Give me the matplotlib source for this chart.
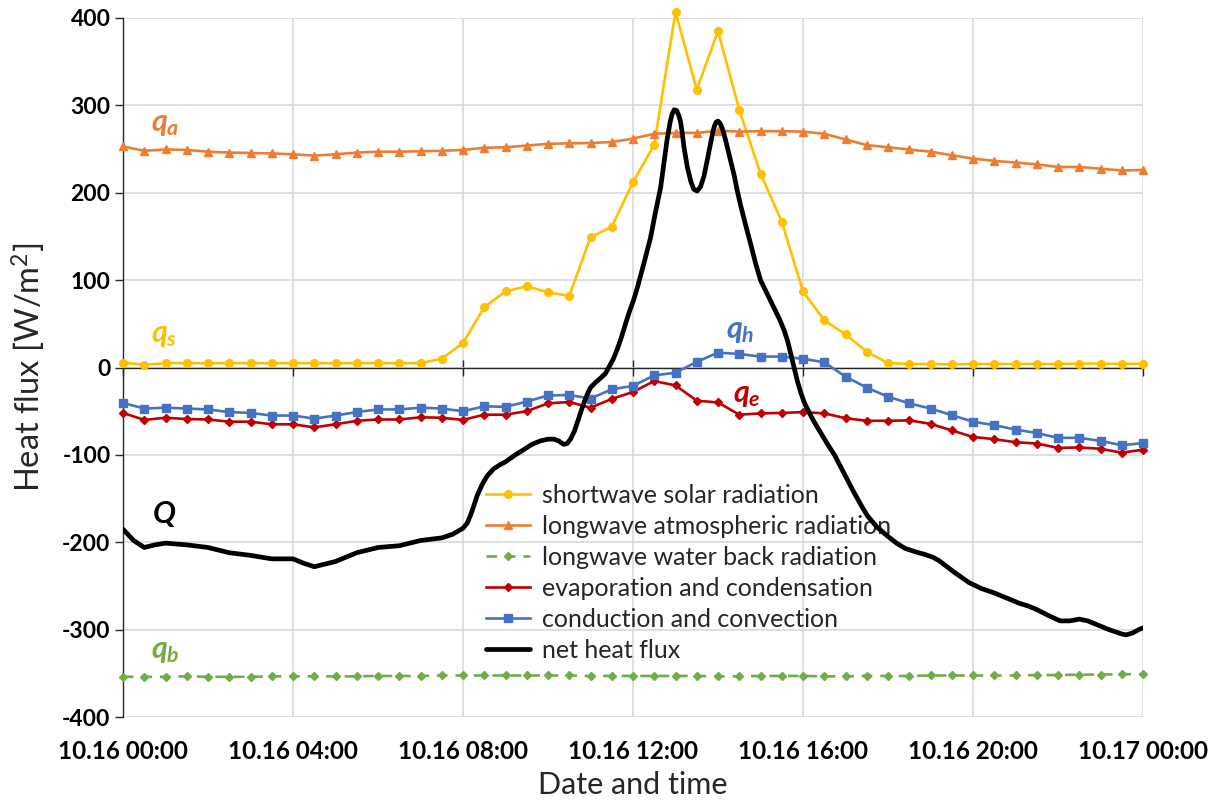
import numpy as np
import matplotlib
matplotlib.use("Agg")
import matplotlib.pyplot as plt

plt.rcParams['font.family'] = ['Lato', 'DejaVu Sans']
plt.rcParams['mathtext.fontset'] = 'custom'
plt.rcParams['mathtext.rm'] = 'Lato'
plt.rcParams['mathtext.it'] = 'Lato:bold:italic'
plt.rcParams['mathtext.bf'] = 'Lato:bold'
plt.rcParams['axes.unicode_minus'] = False

# ---------------- data ----------------
hours = np.arange(0, 24.01, 0.5)
tick_hours = [0, 4, 8, 12, 16, 20, 24]
tick_labels = ["10.16 00:00", "10.16 04:00", "10.16 08:00", "10.16 12:00",
               "10.16 16:00", "10.16 20:00", "10.17 00:00"]

solar = [5.5, 3, 5, 5, 5, 5, 5, 5, 5, 5, 5, 5, 5, 5, 5,
         10, 28, 69, 87, 93, 86, 82, 149, 161, 212, 255, 407, 318, 385, 295,
         222, 167, 87, 54, 38, 18, 5,
         4, 4, 3.5, 4, 4, 4, 4, 4, 4.5, 4.5, 4, 4.5]
atmos = [253, 248, 249.5, 249, 247, 246, 245.5, 245, 244,
         242.5, 244, 246, 247, 247, 247.5, 248, 249,
         251.5, 252, 254, 256, 256.5, 257, 258, 262,
         267.5, 268.5, 268.5, 271, 270, 270.5, 270.5, 270,
         267.5, 261, 254.5, 252, 249.5, 247, 243, 239,
         236.5, 234.5, 232.5, 229.5, 229.5, 227.5, 225.5, 226]
back = [-354, -354, -354, -353.5, -354, -354, -354, -353.5, -353.5,
        -353.5, -353.5, -353.5, -353, -353, -353, -352.5, -352.5,
        -352.5, -352.5, -352.5, -352.5, -352.5, -353, -353, -353,
        -353, -353, -353, -353.5, -353.5, -353, -353, -353,
        -353.5, -353.5, -353, -353, -353, -352.5, -352.5, -352.5,
        -352.5, -352.5, -352, -352, -351.5, -351.5, -351, -351]
evap = [-52, -60, -57.5, -59, -59.5, -62, -62, -65, -65,
        -68.5, -65, -61, -59.5, -59.5, -57, -57.5, -60,
        -54, -54, -50, -41, -39.5, -46, -36, -28,
        -15.5, -20.5, -38, -40, -54, -52.5, -52, -51,
        -52.5, -58, -61, -61, -60.5, -64.5, -72, -79.5,
        -82, -85.5, -87, -92, -91.5, -93, -97.5, -94]
conv = [-40.5, -47, -46, -47, -48, -51, -52, -55, -55,
        -58.5, -55, -51, -48, -48, -46, -47, -50,
        -44.5, -45, -39, -32, -31.5, -35.5, -25, -21,
        -9, -6, 6.5, 17, 15.5, 12.5, 12.5, 10,
        6, -10.5, -23, -33.5, -41, -47, -54.5, -62,
        -66, -71, -75, -80.5, -80.5, -84, -89, -86.5]

net_hours = [0, 0.25, 0.5, 0.75, 1.0, 1.5, 2.0, 2.5, 3.0, 3.5, 4.0, 4.25, 4.5,
             5.0, 5.5, 6.0, 6.5, 7.0, 7.5, 7.75, 8.0, 8.1, 8.17, 8.25, 8.33, 8.45,
             8.57, 8.72, 8.88, 9.0, 9.2, 9.43, 9.62, 9.82, 10.0, 10.14, 10.25, 10.37,
             10.45, 10.53, 10.62, 10.69, 10.77, 10.85, 10.93, 11.0, 11.12, 11.24,
             11.35, 11.43, 11.53, 11.63, 11.73, 11.83, 11.93, 12.02, 12.1, 12.25,
             12.41, 12.53, 12.65, 12.73, 12.8, 12.87, 12.92, 12.97, 13.03, 13.08,
             13.12, 13.16, 13.2, 13.28, 13.36, 13.43, 13.51, 13.59, 13.67, 13.75,
             13.83, 13.88, 13.92, 13.96, 14.0, 14.04, 14.09, 14.13, 14.18, 14.28,
             14.38, 14.45, 14.53, 14.65, 14.77, 14.88, 15.0, 15.16, 15.32, 15.45,
             15.56, 15.64, 15.71, 15.79, 15.87, 15.95, 16.03, 16.15, 16.26, 16.42,
             16.58, 16.74, 16.89, 17.05, 17.2, 17.36, 17.52, 17.75, 17.99, 18.2,
             18.4, 18.65, 18.87, 19.05, 19.2, 19.55, 19.9, 20.2, 20.5, 20.8,
             21.1, 21.3, 21.5, 21.78, 22.05, 22.28, 22.5, 22.7, 22.9, 23.2,
             23.5, 23.6, 23.75, 23.9, 24.0]
net = [-185, -198, -206, -203, -201, -203, -206, -212, -215, -219, -219, -224, -228,
       -222, -212, -206, -204, -198, -195, -191, -184, -178, -170, -159, -147, -134,
       -124, -116, -111, -108, -101, -94, -88, -84, -82, -82, -84, -88,
       -87, -82, -73, -63, -51, -40, -30, -23, -17, -12,
       -7, 0, 9, 21, 35, 51, 66, 78, 91, 118,
       148, 178, 206, 235, 260, 280, 290, 295, 294, 288,
       281, 268, 252, 229, 213, 204, 202, 207, 219, 238,
       258, 270, 277, 281, 282, 280, 275, 269, 260, 240,
       220, 203, 186, 163, 141, 120, 100, 84, 68, 55,
       42, 30, 16, 0, -16, -29, -40, -52, -62, -75,
       -88, -100, -114, -129, -143, -157, -170, -183, -193, -201,
       -207, -211, -214, -217, -221, -234, -246, -253, -258, -264,
       -270, -273, -277, -284, -290, -290, -288, -290, -294, -300,
       -305, -306, -304, -300, -298]

names = ["shortwave solar radiation", "longwave atmospheric radiation",
         "longwave water back radiation", "evaporation and condensation",
         "conduction and convection", "net heat flux"]
colors = ["#FFC000", "#ED7D31", "#70AD47", "#C00000", "#4472C4", "black"]

# ---------------- figure ----------------
W, H = 1217, 800
fig = plt.figure(figsize=(W / 100, H / 100), dpi=100)
ax = fig.add_axes([123 / W, 83 / H, 1020 / W, 699 / H])

for s in ['top', 'right']:
    ax.spines[s].set_visible(False)
ax.spines['bottom'].set_position(('data', 0))
ax.spines['bottom'].set_color('#262626')
ax.spines['bottom'].set_linewidth(1.0)
ax.spines['left'].set_color('#262626')
ax.spines['left'].set_linewidth(1.0)

lw = 1.9
h1, = ax.plot(hours, solar, color=colors[0], lw=lw, marker='o', ms=5.5,
              label=names[0], clip_on=False, zorder=3)
h2, = ax.plot(hours, atmos, color=colors[1], lw=lw, marker='^', ms=5.5,
              label=names[1], clip_on=False, zorder=3)
h3, = ax.plot(hours, back, color=colors[2], lw=lw, marker='D', ms=4.4,
              linestyle=(0, (4, 3)), label=names[2], clip_on=False, zorder=3)
h4, = ax.plot(hours, evap, color=colors[3], lw=lw, marker='D', ms=4.2,
              label=names[3], clip_on=False, zorder=3)
h5, = ax.plot(hours, conv, color=colors[4], lw=lw, marker='s', ms=5.2,
              label=names[4], clip_on=False, zorder=3)
h6, = ax.plot(net_hours, net, color=colors[5], lw=3.4, label=names[5],
              solid_capstyle='round', solid_joinstyle='round', zorder=4)

ax.set_xlim(0, 24)
ax.set_ylim(-400, 400)
ax.set_yticks(range(-400, 401, 100))
ax.set_xticks(tick_hours)
ax.set_xticklabels(tick_labels, fontweight='bold', fontsize=17.5)
for lab in ax.get_yticklabels():
    lab.set_fontweight('bold')
    lab.set_fontsize(16.5)

ax.grid(True, color='#d9d9d9', lw=1.2, zorder=0)
ax.set_axisbelow(True)
ax.tick_params(axis='y', direction='out', length=6, width=1.0, color='#262626',
               pad=3, labelcolor='black')
ax.tick_params(axis='x', direction='inout', length=12, width=1.0, color='#262626',
               pad=262, labelcolor='black')

ax.set_ylabel('Heat flux [W/m$^{2}$]', fontsize=23.5, color='#262626', labelpad=10)
ax.set_xlabel('Date and time', fontsize=22, color='#262626')
ax.xaxis.set_label_coords(0.5, -0.077)

# series annotations
lab_kw = dict(fontsize=22, va='center', ha='left')
ax.text(0.65, 279, r'$q_a$', color=colors[1], **lab_kw)
ax.text(0.65, 37, r'$q_s$', color=colors[0], **lab_kw)
ax.text(14.2, 42, r'$q_h$', color=colors[4], **lab_kw)
ax.text(14.35, -32, r'$q_e$', color=colors[3], **lab_kw)
ax.text(0.68, -168, r'$Q$', color='black', **lab_kw)
ax.text(0.65, -325, r'$q_b$', color=colors[2], **lab_kw)

leg = ax.legend(handles=[h1, h2, h3, h4, h5, h6], loc='upper left',
                bbox_to_anchor=(486 / W, 1 - 484 / H), bbox_transform=fig.transFigure,
                frameon=False, fontsize=18, handlelength=1.75, handletextpad=0.5,
                labelspacing=0.32, borderpad=0, borderaxespad=0)
for t in leg.get_texts():
    t.set_color('#262626')
leg.set_zorder(3.5)

fig.savefig('out.png', dpi=100)
